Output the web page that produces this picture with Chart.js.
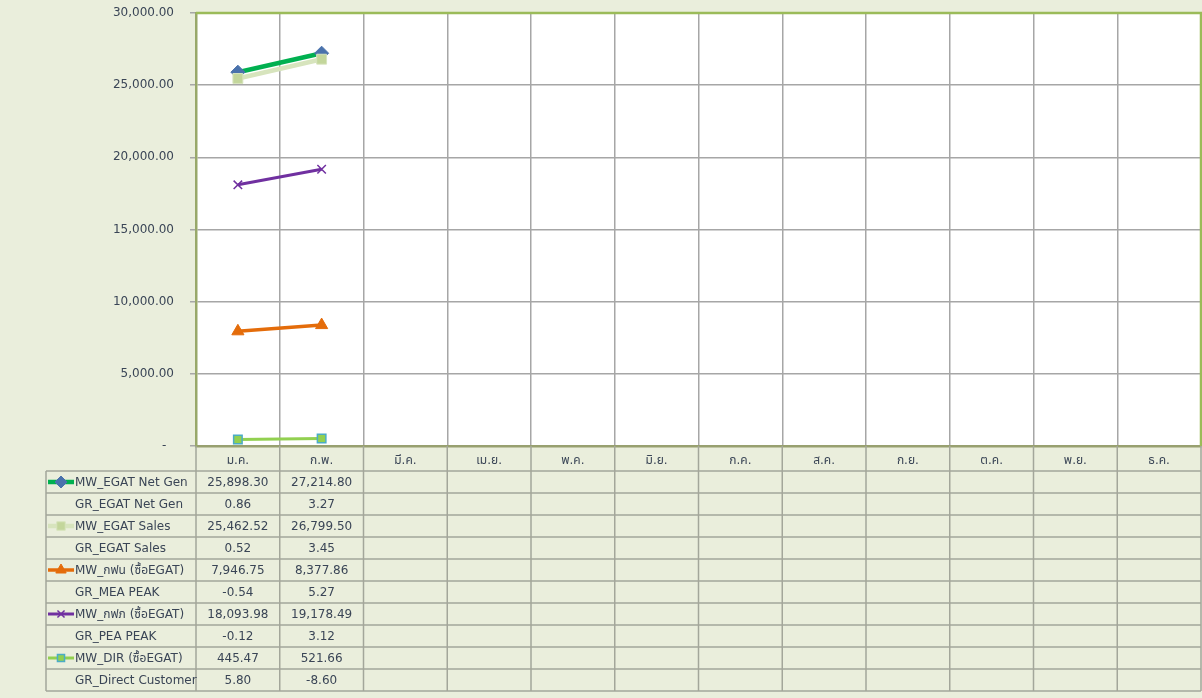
<!DOCTYPE html>
<html>
<head>
<meta charset="utf-8">
<script src="https://cdn.jsdelivr.net/npm/chart.js@4.4.0/dist/chart.umd.min.js"></script>
<style>
html,body{margin:0;padding:0;background:#eaeedc;overflow:hidden;}
#wrap{width:1202px;height:698px;}
</style>
</head>
<body>
<div id="wrap"><canvas id="c" width="1202" height="698"></canvas></div>
<script>
const months = ['ม.ค.','ก.พ.','มี.ค.','เม.ย.','พ.ค.','มิ.ย.','ก.ค.','ส.ค.','ก.ย.','ต.ค.','พ.ย.','ธ.ค.'];
const yTicks = [0, 5000, 10000, 15000, 20000, 25000, 30000];

const nameNetGen = 'MW_EGAT Net Gen';
const mwNetGen = [25898.30, 27214.80];
const nameGrNetGen = 'GR_EGAT Net Gen';
const grNetGen = [0.86, 3.27];

const nameSales = 'MW_EGAT Sales';
const mwSales = [25462.52, 26799.50];
const nameGrSales = 'GR_EGAT Sales';
const grSales = [0.52, 3.45];

const nameMEA = 'MW_กฟน (ซื้อEGAT)';
const mwMEA = [7946.75, 8377.86];
const nameGrMEA = 'GR_MEA PEAK';
const grMEA = [-0.54, 5.27];

const namePEA = 'MW_กฟภ (ซื้อEGAT)';
const mwPEA = [18093.98, 19178.49];
const nameGrPEA = 'GR_PEA PEAK';
const grPEA = [-0.12, 3.12];

const nameDIR = 'MW_DIR (ซื้อEGAT)';
const mwDIR = [445.47, 521.66];
const nameGrDIR = 'GR_Direct Customer';
const grDIR = [5.80, -8.60];

const FONT = '"DejaVu Sans", "Noto Sans", "Noto Sans Thai", sans-serif';
const TXT = '#3a4556';

function fmt(v){ return v.toLocaleString('en-US',{minimumFractionDigits:2,maximumFractionDigits:2}); }

const datasets = [
  {label:nameNetGen, data:mwNetGen, borderColor:'#00b050', borderWidth:4.5, pointStyle:'rectRot', pointRadius:7, pointBackgroundColor:'#4a72ac', pointBorderColor:'#4a72ac', pointBorderWidth:1, order:5},
  {label:nameSales, data:mwSales, borderColor:'#d7e4bd', borderWidth:4.5, pointStyle:'rect', pointRadius:7, pointBackgroundColor:'#c3d69b', pointBorderColor:'#d7e4bd', pointBorderWidth:1, order:4},
  {label:nameMEA, data:mwMEA, borderColor:'#e46c0a', borderWidth:3.5, pointStyle:'triangle', pointRadius:7, pointBackgroundColor:'#e46c0a', pointBorderColor:'#e46c0a', pointBorderWidth:1, order:3},
  {label:namePEA, data:mwPEA, borderColor:'#7030a0', borderWidth:3, pointStyle:'crossRot', pointRadius:6, pointBackgroundColor:'#7030a0', pointBorderColor:'#7030a0', pointBorderWidth:1.5, order:2},
  {label:nameDIR, data:mwDIR, borderColor:'#92d050', borderWidth:3, pointStyle:'rect', pointRadius:6, pointBackgroundColor:'#92d050', pointBorderColor:'#4bacc6', pointBorderWidth:1.5, order:1}
];

const tableRows = [
  {name:nameNetGen, values:mwNetGen, ds:0},
  {name:nameGrNetGen, values:grNetGen, ds:null},
  {name:nameSales, values:mwSales, ds:1},
  {name:nameGrSales, values:grSales, ds:null},
  {name:nameMEA, values:mwMEA, ds:2},
  {name:nameGrMEA, values:grMEA, ds:null},
  {name:namePEA, values:mwPEA, ds:3},
  {name:nameGrPEA, values:grPEA, ds:null},
  {name:nameDIR, values:mwDIR, ds:4},
  {name:nameGrDIR, values:grDIR, ds:null}
];

const bgPlugin = {
  id:'plotBg',
  beforeDraw(chart){
    const {ctx, chartArea:ca} = chart;
    ctx.save();
    ctx.fillStyle = '#ffffff';
    ctx.fillRect(ca.left, ca.top, ca.right-ca.left, ca.bottom-ca.top);
    ctx.restore();
  },
  afterDatasetsDraw(chart){
    const {ctx, chartArea:ca} = chart;
    ctx.save();
    ctx.strokeStyle = '#9bbb59';
    ctx.lineWidth = 2.5;
    ctx.beginPath();
    ctx.moveTo(ca.left, ca.top);
    ctx.lineTo(ca.right, ca.top);
    ctx.lineTo(ca.right, ca.bottom);
    ctx.stroke();
    ctx.restore();
  }
};

const tablePlugin = {
  id:'dataTable',
  afterDraw(chart){
    const {ctx, chartArea:ca, scales:{x}} = chart;
    const step = x.getPixelForValue(1) - x.getPixelForValue(0);
    const headerTop = ca.bottom;
    const headerBottom = ca.bottom + 25;
    const rowH = 22;
    const tableLeft = 46;
    const tableBottom = headerBottom + rowH*tableRows.length;
    ctx.save();
    ctx.strokeStyle = '#a3a69a';
    ctx.lineWidth = 1.5;
    ctx.beginPath();
    for(let r=0;r<=tableRows.length;r++){
      const y = headerBottom + r*rowH;
      ctx.moveTo(tableLeft, y); ctx.lineTo(ca.right, y);
    }
    for(let i=0;i<=months.length;i++){
      const bx = x.getPixelForValue(0) - step/2 + i*step;
      ctx.moveTo(bx, headerTop); ctx.lineTo(bx, tableBottom);
    }
    ctx.moveTo(tableLeft, headerBottom); ctx.lineTo(tableLeft, tableBottom);
    ctx.stroke();

    ctx.fillStyle = TXT;
    ctx.font = '12px ' + FONT;
    ctx.textAlign = 'center';
    ctx.textBaseline = 'middle';
    months.forEach((m,i)=>{
      ctx.fillText(m, x.getPixelForValue(i), (headerTop+headerBottom)/2 + 2);
    });

    tableRows.forEach((row,r)=>{
      const cy = headerBottom + r*rowH + rowH/2 + 1;
      ctx.fillStyle = TXT;
      ctx.textAlign = 'left';
      ctx.fillText(row.name, 75, cy);
      ctx.textAlign = 'center';
      row.values.forEach((v,i)=>{
        ctx.fillText(fmt(v), x.getPixelForValue(i), cy);
      });
      if(row.ds !== null){
        const d = datasets[row.ds];
        const ly = cy - 1;
        ctx.strokeStyle = d.borderColor;
        ctx.lineWidth = d.borderWidth;
        ctx.beginPath();
        ctx.moveTo(48, ly); ctx.lineTo(74, ly);
        ctx.stroke();
        ctx.fillStyle = d.pointBackgroundColor;
        ctx.strokeStyle = d.pointBorderColor;
        ctx.lineWidth = d.pointBorderWidth;
        Chart.helpers.drawPoint(ctx, {pointStyle:d.pointStyle, radius:d.pointRadius-1, rotation:0, borderWidth:d.pointBorderWidth}, 61, ly);
      }
    });
    ctx.restore();
  }
};

new Chart(document.getElementById('c'), {
  type:'line',
  data:{labels:months, datasets:datasets},
  plugins:[bgPlugin, tablePlugin],
  options:{
    responsive:false,
    animation:false,
    devicePixelRatio:1,
    layout:{autoPadding:false, padding:{top:13, right:1, left:0, bottom:0}},
    plugins:{legend:{display:false}, tooltip:{enabled:false}},
    elements:{line:{tension:0}},
    scales:{
      x:{
        offset:true,
        grid:{offset:true, color:'#a6a6a6', lineWidth:1.5, drawTicks:false},
        border:{color:'#98a070', width:2.5},
        ticks:{display:false},
        afterFit(s){ s.height = 252; s.paddingLeft = 0; s.paddingRight = 0; }
      },
      y:{
        min:0, max:30000,
        afterBuildTicks(s){ s.ticks = yTicks.map(v=>({value:v})); },
        grid:{color:'#a6a6a6', lineWidth:1.5, tickLength:6},
        border:{color:'#98a86a', width:2.5},
        ticks:{
          padding:16,
          color:TXT,
          font:{family:FONT, size:12},
          callback:(v)=> v===0 ? '-  ' : fmt(v)
        },
        afterFit(s){ s.width = 196; s.paddingTop = 0; s.paddingBottom = 0; }
      }
    }
  }
});
</script>
</body>
</html>
